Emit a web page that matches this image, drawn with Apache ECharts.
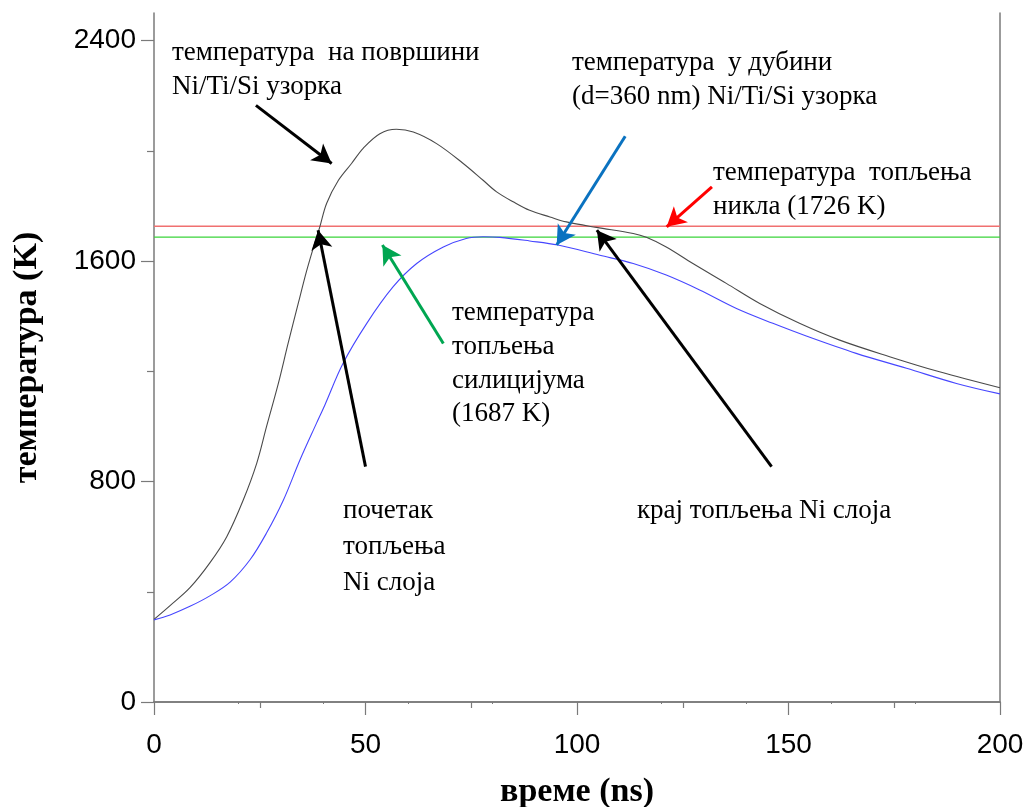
<!DOCTYPE html>
<html>
<head>
<meta charset="utf-8">
<script src="https://cdn.jsdelivr.net/npm/echarts@6/dist/echarts.min.js"></script>
<style>html,body{margin:0;padding:0;background:#fff}#c{width:1024px;height:807px}</style>
</head>
<body>
<div id="c"></div>
<script>
// ---- data ----
const surfaceTime = [0, 3.8, 8.5, 13.2, 17.2, 21.1, 24.3, 26.6, 29.4, 31.7, 34.1, 36.0, 38.0, 39.2, 40.8, 43.6, 46.7, 49.5, 53.4, 57.3, 61.3, 66.8, 73.1, 77.8, 81.0, 84.9, 88.8, 93.6, 97.5, 104.6, 113.3, 116.4, 121.1, 127.4, 135.3, 143.2, 152.6, 162.1, 173.9, 185.7, 200];
const surfaceTemp = [300, 350, 415, 505, 600, 733, 867, 999, 1156, 1301, 1446, 1560, 1665, 1724, 1809, 1893, 1954, 2010, 2062, 2078, 2068, 2026, 1954, 1893, 1851, 1815, 1784, 1760, 1742, 1722, 1700, 1686, 1651, 1591, 1519, 1446, 1374, 1313, 1253, 1198, 1140];
const depthTime = [0, 3.8, 8.5, 13.2, 18.0, 22.7, 26.6, 30.6, 34.5, 38.4, 40.4, 44.7, 50.3, 56.5, 62.1, 68.4, 73.8, 77.8, 81.8, 88.8, 95.5, 105.4, 113.3, 121.1, 129.0, 137.7, 146.3, 154.2, 166.0, 177.9, 189.7, 200];
const depthTemp = [298, 316, 347, 385, 435, 516, 613, 733, 878, 1011, 1078, 1229, 1374, 1506, 1591, 1651, 1682, 1688, 1686, 1673, 1658, 1621, 1591, 1549, 1495, 1428, 1374, 1328, 1265, 1211, 1156, 1118];
const niMelt = 1726;
const siMelt = 1687;
const timeRange = [0, 200];
const xTicks = [0, 50, 100, 150, 200];
const yTicks = [0, 800, 1600, 2400];
const yMinorTicks = [400, 1200, 2000];
// annotation arrows: [tailTime, tailTemp, tipTime, tipTemp]
const arrowSurface = [24.1, 2165, 42.0, 1954];
const arrowStart = [50.0, 854, 38.8, 1712];
const arrowSi = [68.4, 1301, 54.0, 1658];
const arrowDepth = [111.4, 2053, 95.2, 1658];
const arrowNi = [131.9, 1869, 121.2, 1724];
const arrowEnd = [146.0, 854, 104.7, 1712];
// annotation texts
const labelSurface = ['температура  на површини', 'Ni/Ti/Si узорка'];
const labelDepth = ['температура  у дубини', '(d=360 nm) Ni/Ti/Si узорка'];
const labelNi = ['температура  топљења', 'никла (1726 K)'];
const labelSi = ['температура', 'топљења', 'силицијума', '(1687 K)'];
const labelStart = ['почетак', 'топљења', 'Ni слоја'];
const labelEnd = ['крај топљења Ni слоја'];
const xTitle = 'време (ns)';
const yTitle = 'температура (K)';

const chart = echarts.init(document.getElementById('c'), null, {renderer: 'canvas'});
const axisColor = '#7a7a7a';
const serif = '"Liberation Serif", "Times New Roman", serif';
const sans = '"Liberation Sans", Arial, sans-serif';

function arrow(a, color) {
  return [
    {coord: [a[0], a[1]], lineStyle: {color: color, width: 3, type: 'solid'}, symbol: 'none'},
    {coord: [a[2], a[3]], symbol: 'arrow', symbolSize: [16, 19]}
  ];
}
function textBlock(lines, x, baselines) {
  return lines.map((s, i) => ({
    type: 'text', left: x, top: baselines[i] - 21, z: 100,
    style: {text: s, font: '27px ' + serif, fill: '#000'}
  }));
}
function refLine(name, value, color, width) {
  return {
    name: name, type: 'line', xAxisIndex: 0, yAxisIndex: 0,
    data: timeRange.map(t => [t, value]),
    showSymbol: false, silent: true, z: 2,
    itemStyle: {color: color},
    lineStyle: {color: color, width: width, type: 'solid'}
  };
}

const option = {
  animation: false,
  backgroundColor: '#fff',
  grid: {left: 154, top: 13, right: 24, bottom: 105, containLabel: false, outerBoundsMode: 'none'},
  xAxis: [
    {
      type: 'value', position: 'bottom', min: 0, max: 200, interval: 50,
      axisLine: {show: true, lineStyle: {color: axisColor, width: 1.5}},
      axisTick: {show: true, length: 13, lineStyle: {color: axisColor, width: 1.2}},
      minorTick: {show: true, splitNumber: 2, length: 6, lineStyle: {color: axisColor, width: 1.2}},
      axisLabel: {show: true, margin: 29, fontFamily: sans, fontSize: 28, color: '#000',
        customValues: xTicks, formatter: v => String(v)},
      splitLine: {show: false}, minorSplitLine: {show: false},
      name: xTitle, nameLocation: 'middle', nameGap: 73,
      nameTextStyle: {fontFamily: serif, fontWeight: 'bold', fontSize: 34, color: '#000'}
    },
    {
      type: 'value', position: 'top', min: 0, max: 200, interval: 20,
      axisLine: {show: true, lineStyle: {color: axisColor, width: 1.5}},
      axisTick: {show: true, inside: true, length: 2, lineStyle: {color: axisColor}},
      axisLabel: {show: false}, splitLine: {show: false}
    }
  ],
  yAxis: [
    {
      type: 'value', position: 'left', min: 0, max: 2500,
      axisLine: {show: true, lineStyle: {color: axisColor, width: 1.5}},
      axisTick: {show: true, length: 13, customValues: yTicks, lineStyle: {color: axisColor, width: 1.2}},
      axisLabel: {show: true, margin: 18, fontFamily: sans, fontSize: 28, color: '#000',
        customValues: yTicks, formatter: v => String(v)},
      splitLine: {show: false},
      name: yTitle, nameLocation: 'middle', nameGap: 110, nameRotate: 90,
      nameTextStyle: {fontFamily: serif, fontWeight: 'bold', fontSize: 34, color: '#000'}
    },
    {
      type: 'value', position: 'left', min: 0, max: 2500,
      axisLine: {show: false},
      axisTick: {show: true, length: 7, customValues: yMinorTicks, lineStyle: {color: axisColor, width: 1.2}},
      axisLabel: {show: false}, splitLine: {show: false}
    },
    {
      type: 'value', position: 'right', min: 0, max: 2500,
      axisLine: {show: true, lineStyle: {color: axisColor, width: 1.5}},
      axisTick: {show: false}, axisLabel: {show: false}, splitLine: {show: false}
    }
  ],
  series: [
    refLine('Ni melting', niMelt, '#f07070', 1.4),
    refLine('Si melting', siMelt, '#3ad43a', 1.3),
    {
      name: 'surface', type: 'line', xAxisIndex: 0, yAxisIndex: 0,
      data: surfaceTime.map((t, i) => [t, surfaceTemp[i]]),
      showSymbol: false, smooth: 0.35,
      lineStyle: {color: '#4a4a4a', width: 1.1}, z: 3
    },
    {
      name: 'depth', type: 'line', xAxisIndex: 0, yAxisIndex: 0,
      data: depthTime.map((t, i) => [t, depthTemp[i]]),
      showSymbol: false, smooth: 0.35,
      lineStyle: {color: '#4646ff', width: 1.1}, z: 3,
      markLine: {
        silent: true, animation: false, label: {show: false}, z: 10,
        data: [
          arrow(arrowSurface, '#000'),
          arrow(arrowStart, '#000'),
          arrow(arrowSi, '#00a651'),
          arrow(arrowDepth, '#0a72c0'),
          arrow(arrowNi, '#ff0000'),
          arrow(arrowEnd, '#000')
        ]
      }
    }
  ],
  graphic: [].concat(
    textBlock(labelSurface, 172, [60, 94]),
    textBlock(labelDepth, 572, [70, 104]),
    textBlock(labelNi, 713, [180, 214]),
    textBlock(labelSi, 452, [320, 354, 388, 421]),
    textBlock(labelStart, 343, [518, 554, 590]),
    textBlock(labelEnd, 637, [518])
  )
};
chart.setOption(option);
</script>
</body>
</html>
